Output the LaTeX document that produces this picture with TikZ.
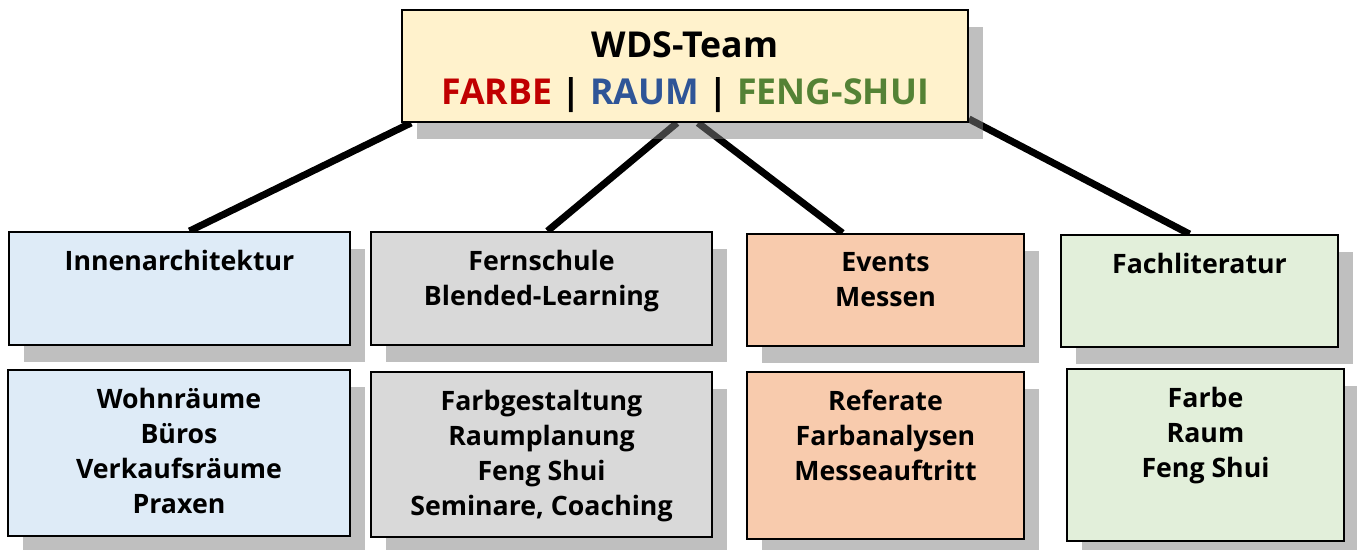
\documentclass[tikz,border=0pt]{standalone}
\usepackage{fontspec}
\setmainfont{Open Sans}
\usetikzlibrary{calc, shadows, backgrounds}
\definecolor{teamfill}{HTML}{FFF2CC}
\definecolor{innfill}{HTML}{DEEBF7}
\definecolor{fernfill}{HTML}{D9D9D9}
\definecolor{eventfill}{HTML}{F8CBAD}
\definecolor{fachfill}{HTML}{E2EFDA}
\definecolor{farbered}{HTML}{C00000}
\definecolor{raumblue}{HTML}{2F5597}
\definecolor{fenggreen}{HTML}{548235}

\begin{document}
\begin{tikzpicture}[x=0.02cm, y=0.02cm,
    box/.style={draw=black, line width=1.1pt, rectangle, inner sep=0pt,
      drop shadow={shadow xshift=0.3cm, shadow yshift=-0.34cm, fill=black!50, opacity=0.5}},
    txt/.style={anchor=north, align=center, inner sep=0pt,
      font=\fontsize{15.2}{19.8}\selectfont\bfseries},
    link/.style={line width=4pt, black}]
    \useasboundingbox (0,0) rectangle (1357,550);
    \node[box, fill=teamfill, minimum width=11.32cm, minimum height=2.24cm] (team) at (685,484) {};
    \node[box, fill=innfill, minimum width=6.82cm, minimum height=2.26cm] (inn) at (179.5,261.5) {};
    \node[box, fill=fernfill, minimum width=6.82cm, minimum height=2.26cm] (fern) at (541.5,261.5) {};
    \node[box, fill=eventfill, minimum width=5.54cm, minimum height=2.24cm] (events) at (885.5,260) {};
    \node[box, fill=fachfill, minimum width=5.54cm, minimum height=2.24cm] (fach) at (1199.5,259) {};
    \node[box, fill=innfill, minimum width=6.84cm, minimum height=3.32cm] (wohn) at (179,97) {};
    \node[box, fill=fernfill, minimum width=6.82cm, minimum height=3.3cm] (farbg) at (541.5,95.5) {};
    \node[box, fill=eventfill, minimum width=5.54cm, minimum height=3.34cm] (ref) at (885.5,94.5) {};
    \node[box, fill=fachfill, minimum width=5.54cm, minimum height=3.44cm] (farbe) at (1205.5,95) {};
    \node[align=center, inner sep=0pt, font=\fontsize{20.3}{26.6}\selectfont\bfseries] (teamtxt)
      at ($(team.center)+(0,-6)$)
      {WDS-Team\\\textcolor{farbered}{FARBE} | \textcolor{raumblue}{RAUM} | \textcolor{fenggreen}{FENG-SHUI}};
    \node[txt] (inntxt) at ($(inn.north)+(0,-19)$) {Innenarchitektur};
    \node[txt] (ferntxt) at ($(fern.north)+(0,-19)$) {Fernschule\\Blended-Learning};
    \node[txt] (eventstxt) at ($(events.north)+(0,-19)$) {Events\\Messen};
    \node[txt] (fachtxt) at ($(fach.north)+(0,-19)$) {Fachliteratur};
    \node[txt] (wohntxt) at ($(wohn.north)+(0,-19)$) {Wohnräume\\Büros\\Verkaufsräume\\Praxen};
    \node[txt] (farbgtxt) at ($(farbg.north)+(0,-19)$) {Farbgestaltung\\Raumplanung\\Feng Shui\\Seminare, Coaching};
    \node[txt] (reftxt) at ($(ref.north)+(0,-19)$) {Referate\\Farbanalysen\\Messeauftritt};
    \node[txt] (farbetxt) at ($(farbe.north)+(0,-19)$) {Farbe\\Raum\\Feng Shui};
    \begin{scope}[on background layer]
      \draw[link] ($(team.south west)+(10,0)$) -- ($(inn.north)+(10,0)$);
      \draw[link] ($(team.south)+(-8,0)$) -- ($(fern.north)+(6,0)$);
      \draw[link] ($(team.south)+(13,0)$) -- ($(events.north)+(-43,0)$);
      \draw[link] ($(team.south east)+(0,4)$) -- ($(fach.north)+(-10,0)$);
    \end{scope}
  \end{tikzpicture}
\end{document}
